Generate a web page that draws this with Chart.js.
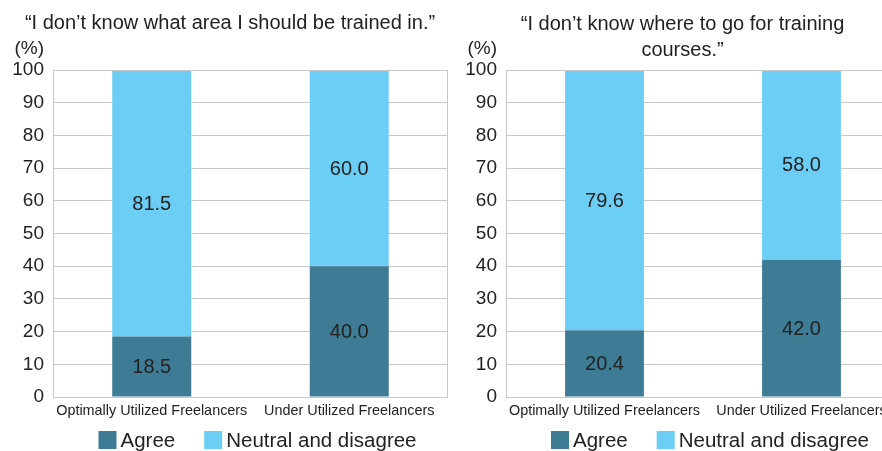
<!DOCTYPE html>
<html>
<head>
<meta charset="utf-8">
<script src="https://cdn.jsdelivr.net/npm/chart.js@4/dist/chart.umd.min.js"></script>
<style>
    html, body { margin: 0; padding: 0; background: #fff; overflow: hidden; width: 882px; height: 451px; }
    canvas { position: absolute; top: 0; }
    #area_chart { left: 0; }
    #where_chart { left: 453px; }
</style>
</head>
<body>
<canvas id="area_chart" width="455" height="451"></canvas>
<canvas id="where_chart" width="472" height="451"></canvas>
<script>
var categories = ["Optimally Utilized Freelancers", "Under Utilized Freelancers"];
var seriesNames = ["Agree", "Neutral and disagree"];

// "what area" survey
var areaAgree = [18.5, 40.0];
var areaNeutral = [81.5, 60.0];

// "where to go" survey
var whereAgree = [20.4, 42.0];
var whereNeutral = [79.6, 58.0];

var yMin = 0, yMax = 100, yStep = 10;

var agreeColor = "#3e7b95";
var neutralColor = "#6ccef5";
var gridColor = "#c9c9c9";
var textColor = "#222222";
var fontFamily = "'Liberation Sans', Arial, sans-serif";

// values inside bars, frame around plot, (%) unit and bottom legend
var extrasPlugin = {
    id: "extras",
    afterDatasetsDraw: function(chart) {
        var ctx = chart.ctx;
        ctx.save();
        ctx.font = "20px " + fontFamily;
        ctx.fillStyle = textColor;
        ctx.textAlign = "center";
        ctx.textBaseline = "middle";
        chart.data.datasets.forEach(function(ds, i) {
            var meta = chart.getDatasetMeta(i);
            meta.data.forEach(function(bar, j) {
                var mid = (bar.y + bar.base) / 2;
                ctx.fillText(ds.data[j].toFixed(1), bar.x, mid + 1);
            });
        });
        ctx.restore();
    },
    afterDraw: function(chart) {
        var ctx = chart.ctx;
        var area = chart.chartArea;
        ctx.save();
        ctx.strokeStyle = gridColor;
        ctx.lineWidth = 1;
        ctx.strokeRect(Math.round(area.left) + 0.5, Math.round(area.top) + 0.5,
            Math.round(area.right - area.left) - 1, Math.round(area.bottom - area.top));

        ctx.fillStyle = textColor;
        ctx.font = "19px " + fontFamily;
        ctx.textAlign = "right";
        ctx.textBaseline = "middle";
        ctx.fillText("(%)", area.left - 9, area.top - 21);

        // legend
        ctx.font = "20.5px " + fontFamily;
        var box = 18, gap = 4, itemGap = 29;
        var items = chart.data.datasets.map(function(ds) {
            return { text: ds.label, color: ds.backgroundColor, w: ctx.measureText(ds.label).width };
        });
        var total = 0;
        items.forEach(function(it, i) {
            total += box + gap + it.w + (i > 0 ? itemGap : 0);
        });
        var x = (area.left + area.right) / 2 + 7 - total / 2;
        var y = 440;
        ctx.textAlign = "left";
        items.forEach(function(it) {
            ctx.fillStyle = it.color;
            ctx.fillRect(x, y - box / 2, box, box);
            ctx.fillStyle = textColor;
            ctx.fillText(it.text, x + box + gap, y + 1);
            x += box + gap + it.w + itemGap;
        });
        ctx.restore();
    }
};

function makeChart(canvasId, title, agree, neutral, titleTop, titleBottom, padRight) {
    var chartdata = {
        labels: categories,
        datasets: [{
            label: seriesNames[0],
            backgroundColor: agreeColor,
            data: agree,
        }, {
            label: seriesNames[1],
            backgroundColor: neutralColor,
            data: neutral,
        }, ],
    };

    return new Chart(document.getElementById(canvasId), {
        type: "bar",
        data: chartdata,
        plugins: [extrasPlugin],
        options: {
            responsive: false,
            animation: false,
            devicePixelRatio: 1,
            layout: { padding: { left: 12, right: padRight, top: 0, bottom: 22 } },
            datasets: { bar: { categoryPercentage: 1, barPercentage: 0.4 } },
            plugins: {
                legend: { display: false },
                tooltip: { enabled: false },
                title: {
                    display: true,
                    text: title,
                    color: textColor,
                    font: { family: fontFamily, size: 20, weight: "normal", lineHeight: 1.3 },
                    padding: { top: titleTop, bottom: titleBottom },
                },
            },
            scales: {
                x: {
                    stacked: true,
                    grid: { display: false, drawTicks: false },
                    border: { display: false },
                    ticks: {
                        color: textColor,
                        padding: 5,
                        maxRotation: 0,
                        autoSkip: false,
                        font: { family: fontFamily, size: 14.4 },
                    },
                    afterFit: function(axis) { axis.height = 32; },
                },
                y: {
                    stacked: true,
                    min: yMin,
                    max: yMax,
                    grid: { color: gridColor, drawTicks: false },
                    border: { display: false },
                    ticks: {
                        stepSize: yStep,
                        color: textColor,
                        padding: 9,
                        font: { family: fontFamily, size: 19 },
                    },
                    afterFit: function(axis) { axis.width = 41; },
                },
            },
        },
    });
}

makeChart("area_chart", "\u201cI don\u2019t know what area I should be trained in.\u201d",
    areaAgree, areaNeutral, 10, 34, 7);
makeChart("where_chart", ["\u201cI don\u2019t know where to go for training", "courses.\u201d"],
    whereAgree, whereNeutral, 11, 7, 25);
</script>
</body>
</html>
